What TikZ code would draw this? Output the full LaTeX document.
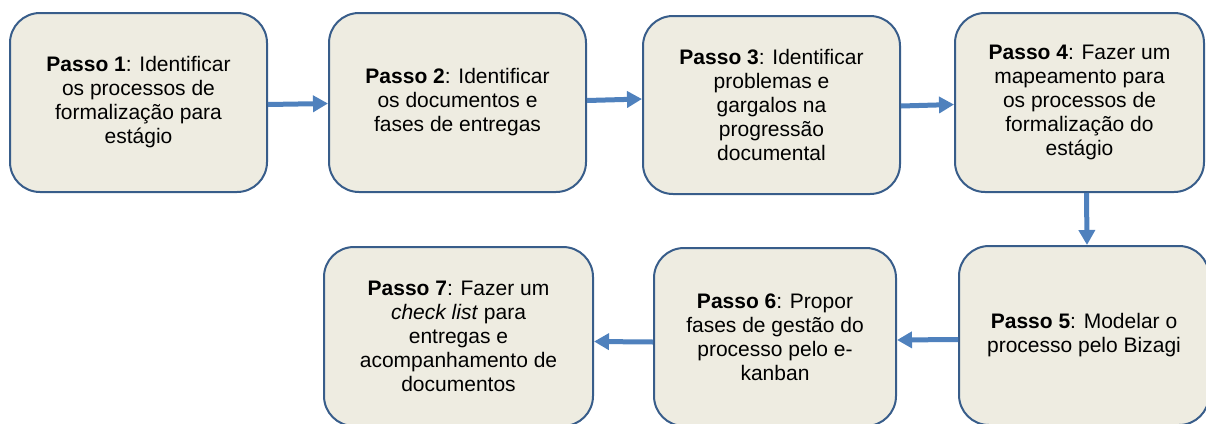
\documentclass[tikz,border=0pt]{standalone}
\usepackage{fontspec}
\setmainfont{Liberation Sans}
\usetikzlibrary{arrows.meta}

\definecolor{caixa}{HTML}{EEECE1}
\definecolor{borda}{HTML}{385D8A}
\definecolor{seta}{HTML}{4F81BD}

\tikzset{
  passo/.style={draw=borda, line width=2pt, fill=caixa, rounded corners=30pt,
    align=center, font=\fontsize{21}{24}\selectfont, inner sep=0pt},
  fluxo/.style={draw=seta, line width=5pt, -{Triangle[length=15pt,width=16pt]}}
}

\begin{document}
\begin{tikzpicture}[x=1pt,y=-1pt]
        \useasboundingbox (0,0) rectangle (1206,423);
        \clip (0,0) rectangle (1206,423);

        % primeira linha
        \node[passo, minimum width=257pt, minimum height=179pt] (p1) at (138.5,102.5)
            {\textbf{Passo 1}: Identificar\\os processos de\\formalização para\\estágio};
        \node[passo, minimum width=257pt, minimum height=179pt] (p2) at (457.5,102.5)
            {\textbf{Passo 2}: Identificar\\os documentos e\\fases de entregas};
        \node[passo, minimum width=257pt, minimum height=178pt] (p3) at (771.5,105)
            {\textbf{Passo 3}: Identificar\\problemas e\\gargalos na\\progressão\\documental};
        \node[passo, minimum width=249pt, minimum height=179pt] (p4) at (1079.5,102.5)
            {\textbf{Passo 4}: Fazer um\\mapeamento para\\os processos de\\formalização do\\estágio};

        % segunda linha
        \node[passo, minimum width=250pt, minimum height=179pt] (p5) at (1084,335.5)
            {\textbf{Passo 5}: Modelar o\\processo pelo Bizagi};
        \node[passo, minimum width=242pt, minimum height=178pt] (p6) at (775,337)
            {\textbf{Passo 6}: Propor\\fases de gestão do\\processo pelo e-\\kanban};
        \node[passo, minimum width=269pt, minimum height=179pt] (p7) at (458.5,336.5)
            {\textbf{Passo 7}: Fazer um\\\textit{check list} para\\entregas e\\acompanhamento de\\documentos};

        \draw[fluxo] ([yshift=-2pt]p1.east) -- ([yshift=-1pt]p2.west);
        \draw[fluxo] ([yshift=2pt]p2.east) -- ([yshift=6pt]p3.west);
        \draw[fluxo] ([yshift=-1pt]p3.east) -- ([yshift=-2pt]p4.west);
        \draw[fluxo] ([xshift=7pt]p4.south) -- ([xshift=3pt]p5.north);
        \draw[fluxo] ([yshift=-4pt]p5.west) -- ([yshift=-3pt]p6.east);
        \draw[fluxo] ([yshift=-5pt]p6.west) -- ([yshift=-5pt]p7.east);

    \end{tikzpicture}
\end{document}
